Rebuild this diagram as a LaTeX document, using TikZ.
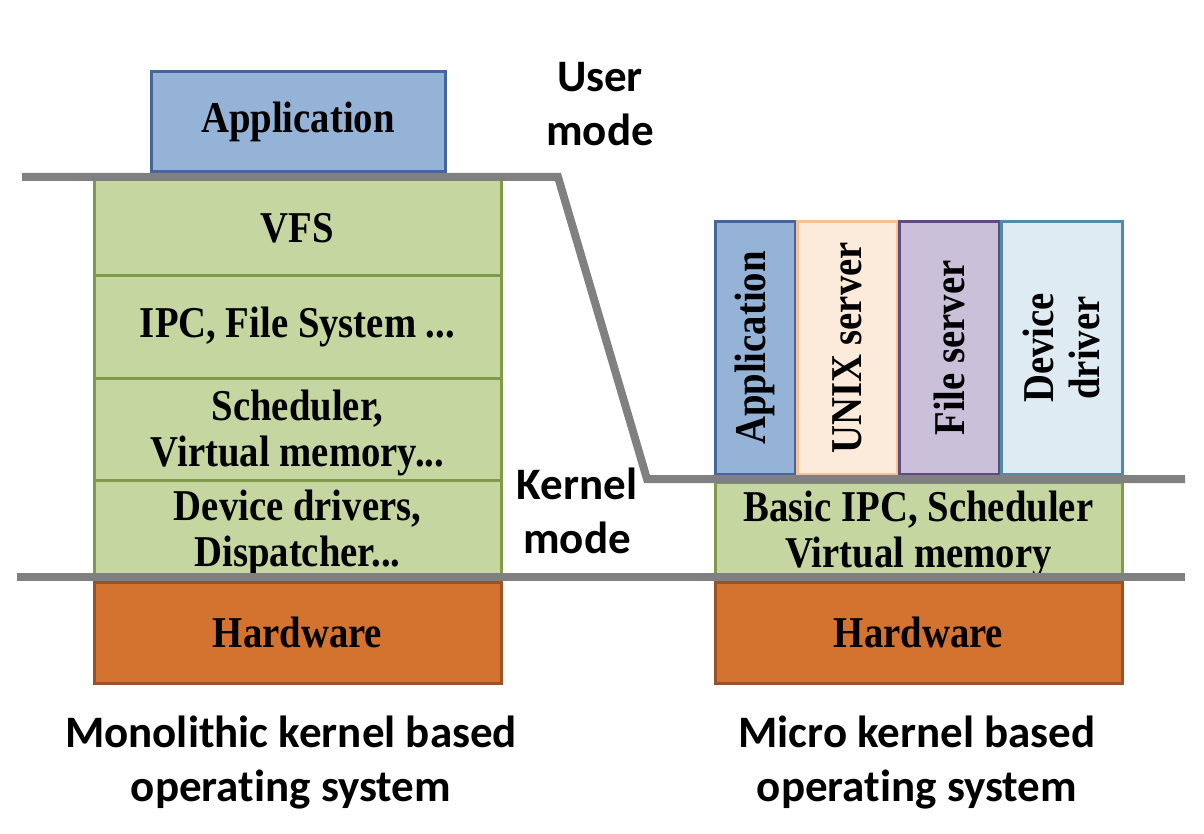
\documentclass[tikz,border=0pt]{standalone}
\usepackage{fontspec}
\setmainfont{Liberation Serif}
\newfontfamily\layerfont{Liberation Serif}[FakeStretch=0.88]
\newfontfamily\modefont{Carlito}[Ligatures=NoCommon]
\newcommand\topgap{\rule{0pt}{39pt}}
\definecolor{appfill}{HTML}{95B3D7}
\definecolor{appline}{HTML}{46659A}
\definecolor{kernfill}{HTML}{C6D6A1}
\definecolor{kernline}{HTML}{7F9A48}
\definecolor{hwfill}{HTML}{D4722F}
\definecolor{hwline}{HTML}{9A5226}
\definecolor{unixfill}{HTML}{FCEADA}
\definecolor{unixline}{HTML}{F6C195}
\definecolor{filefill}{HTML}{CBC0DA}
\definecolor{fileline}{HTML}{5F4B7F}
\definecolor{devfill}{HTML}{DEEBF2}
\definecolor{devline}{HTML}{4F8CA5}
\definecolor{sepgray}{HTML}{808080}
\tikzset{
  layer/.style={draw, line width=3pt, inner sep=0pt, align=center,
    font=\layerfont\bfseries\fontsize{44}{46}\selectfont},
  applayer/.style={layer, fill=appfill, draw=appline},
  kernlayer/.style={layer, fill=kernfill, draw=kernline, minimum width=407},
  hwlayer/.style={layer, fill=hwfill, draw=hwline, minimum width=407, minimum height=101},
  server/.style={layer, rotate=90, minimum width=252},
  modetext/.style={align=center, font=\modefont\bfseries\fontsize{45}{54}\selectfont},
  sepline/.style={line width=8pt, sepgray, line join=miter}
}
\begin{document}
\begin{tikzpicture}[x=1pt,y=-1pt]
\useasboundingbox (0,0) rectangle (1204,834);
% monolithic kernel
\node[applayer, minimum width=294, minimum height=100] (mapp) at (298,122) {Application};
\node[kernlayer, minimum height=96] (vfs) at (297.5,228) {VFS};
\node[kernlayer, minimum height=102] (ipc) at (297.5,327) {IPC, File System ...};
\node[kernlayer, minimum height=102] (sched) at (297.5,429) {\topgap Scheduler,\\Virtual memory...};
\node[kernlayer, minimum height=97] (drv) at (297.5,528.5) {\topgap Device drivers,\\Dispatcher...};
\node[hwlayer] (mhw) at (297.5,632.5) {Hardware};
% micro kernel
\node[server, fill=appfill, draw=appline, minimum height=80] (uapp) at (755,348) {Application};
\node[server, fill=unixfill, draw=unixline, minimum height=100] (unix) at (847,348) {UNIX server};
\node[server, fill=filefill, draw=fileline, minimum height=100] (fsrv) at (949,348) {File server};
\node[server, fill=devfill, draw=devline, minimum height=121] (ddrv) at (1061.5,348) {Device\\driver};
\node[kernlayer, minimum height=94] (basic) at (918.5,530) {\topgap Basic IPC, Scheduler\\Virtual memory};
\node[hwlayer] (uhw) at (918.5,632.5) {Hardware};
% mode boundaries
\draw[sepline] (22,177)--(558,177)--(647,479)--(1185,479);
\draw[sepline] (17,577)--(1185,577);
% labels
\node[modetext] (user) at (600,104) {User\\mode};
\node[modetext] (kern) at (577,511) {Kernel\\mode};
\node[modetext] (mono) at (291,763) {Monolithic kernel based\\operating system};
\node[modetext] (micro) at (917,763) {Micro kernel based\\operating system};
\end{tikzpicture}
\end{document}
